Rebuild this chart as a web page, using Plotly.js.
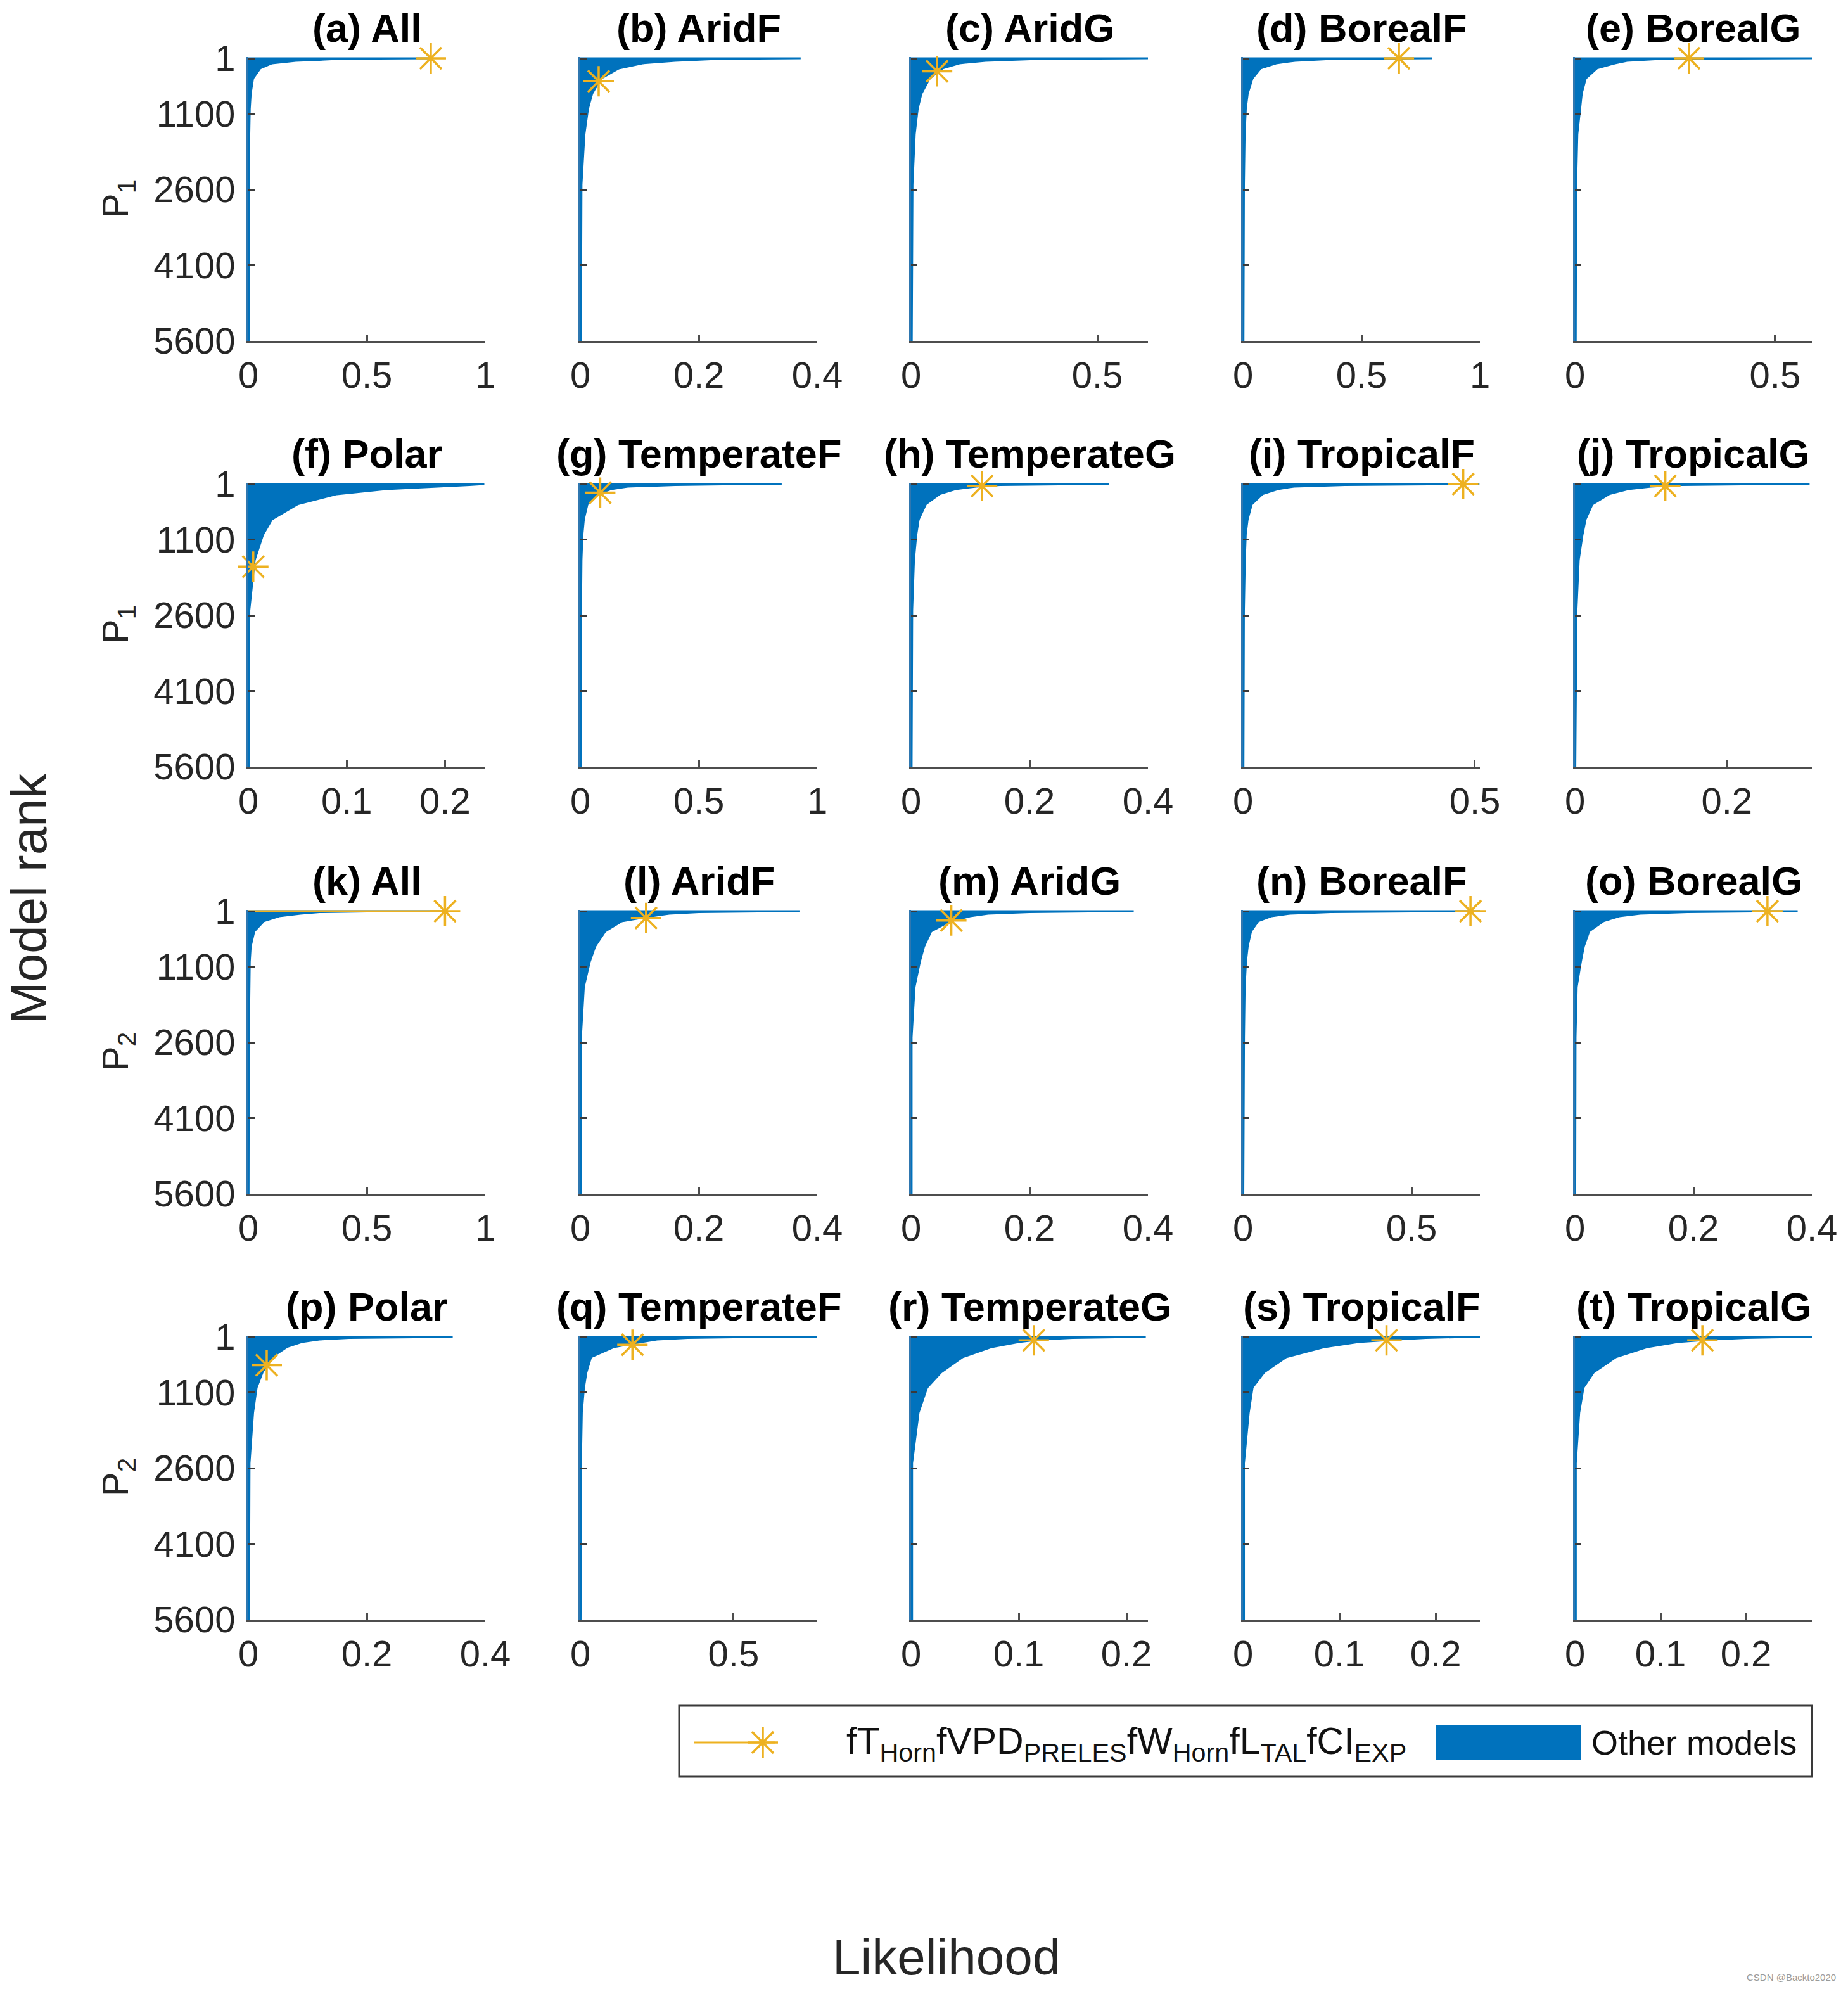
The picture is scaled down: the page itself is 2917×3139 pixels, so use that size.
<!DOCTYPE html>
<html>
<head>
<meta charset="utf-8">
<script src="https://cdn.plot.ly/plotly-3.0.1.min.js"></script>
<style>html,body{margin:0;padding:0;background:#fff;}</style>
</head>
<body>
<div id="chart" style="width:2917px;height:3139px;"></div>
<script>
// ---------------- DATA ----------------
const panelTitles = ['(a) All','(b) AridF','(c) AridG','(d) BorealF','(e) BorealG',
  '(f) Polar','(g) TemperateF','(h) TemperateG','(i) TropicalF','(j) TropicalG',
  '(k) All','(l) AridF','(m) AridG','(n) BorealF','(o) BorealG',
  '(p) Polar','(q) TemperateF','(r) TemperateG','(s) TropicalF','(t) TropicalG'];
const rowLabels = ['P<sub>1</sub>','P<sub>1</sub>','P<sub>2</sub>','P<sub>2</sub>'];
const rankTicks = [1, 1100, 2600, 4100, 5600];
const rankMax = 5600;

// model rank at which each likelihood value is read
const RANKS = [1, 5, 20, 50, 100, 200, 400, 700, 1000, 1500, 2500, 5600];
// likelihood of the model at each rank in RANKS (sorted descending)
const likeA = [0.77, 0.55, 0.35, 0.2, 0.1, 0.05, 0.02, 0.01, 0.006, 0.004, 0.003, 0.002];
const likeB = [0.372, 0.3, 0.22, 0.16, 0.105, 0.065, 0.035, 0.02, 0.013, 0.007, 0.002, 0.001];
const likeC = [0.636, 0.5, 0.32, 0.2, 0.13, 0.085, 0.05, 0.028, 0.018, 0.01, 0.004, 0.002];
const likeD = [0.797, 0.6, 0.35, 0.22, 0.14, 0.075, 0.04, 0.02, 0.012, 0.007, 0.004, 0.002];
const likeE = [0.592, 0.4, 0.2, 0.13, 0.1, 0.055, 0.027, 0.017, 0.013, 0.006, 0.003, 0.002];
const likeF = [0.24, 0.235, 0.225, 0.19, 0.14, 0.09, 0.05, 0.024, 0.015, 0.0065, 0.001, 0.0005];
const likeG = [0.85, 0.6, 0.4, 0.2, 0.13, 0.075, 0.03, 0.015, 0.009, 0.005, 0.003, 0.002];
const likeH = [0.334, 0.25, 0.15, 0.11, 0.075, 0.048, 0.025, 0.013, 0.009, 0.005, 0.002, 0.001];
const likeI = [0.51, 0.4, 0.22, 0.11, 0.075, 0.042, 0.019, 0.01, 0.006, 0.004, 0.002, 0.001];
const likeJ = [0.309, 0.22, 0.14, 0.1, 0.07, 0.045, 0.023, 0.014, 0.01, 0.005, 0.002, 0.0005];
const likeK = [0.83, 0.5, 0.3, 0.22, 0.13, 0.065, 0.025, 0.01, 0.006, 0.004, 0.002, 0.001];
const likeL = [0.37, 0.3, 0.2, 0.15, 0.12, 0.07, 0.042, 0.025, 0.016, 0.006, 0.001, 0.001];
const likeM = [0.376, 0.3, 0.2, 0.13, 0.1, 0.066, 0.034, 0.022, 0.015, 0.006, 0.001, 0.001];
const likeN = [0.703, 0.5, 0.26, 0.14, 0.085, 0.045, 0.024, 0.014, 0.009, 0.005, 0.003, 0.001];
const likeO = [0.376, 0.3, 0.19, 0.11, 0.075, 0.048, 0.024, 0.015, 0.01, 0.003, 0.001, 0.0005];
const likeP = [0.345, 0.28, 0.17, 0.12, 0.09, 0.065, 0.04, 0.024, 0.014, 0.008, 0.002, 0.001];
const likeQ = [0.773, 0.5, 0.35, 0.25, 0.2, 0.11, 0.035, 0.02, 0.012, 0.005, 0.002, 0.001];
const likeR = [0.218, 0.19, 0.15, 0.12, 0.1, 0.075, 0.048, 0.028, 0.015, 0.007, 0.001, 0.001];
const likeS = [0.246, 0.22, 0.19, 0.16, 0.12, 0.085, 0.045, 0.022, 0.01, 0.006, 0.001, 0.001];
const likeT = [0.277, 0.24, 0.2, 0.16, 0.12, 0.085, 0.048, 0.022, 0.01, 0.005, 0.001, 0.001];

// best model (fT_Horn fVPD_PRELES fW_Horn fL_TAL fCI_EXP): likelihood and rank per panel
const starLik  = [0.77, 0.031, 0.07, 0.658, 0.285, 0.005, 0.084, 0.12, 0.475, 0.119,
                  0.83, 0.111, 0.068, 0.675, 0.325, 0.031, 0.17, 0.114, 0.149, 0.149];
const starRank = [1, 456, 258, 1, 1, 1637, 171, 37, 1, 37,
                  1, 135, 185, 1, 1, 559, 154, 65, 65, 65];

// x-axis limits and ticks per panel
const xMax = [1, 0.4, 0.636, 1, 0.592, 0.241, 1, 0.4, 0.511, 0.312,
              1, 0.4, 0.4, 0.703, 0.4, 0.4, 0.773, 0.22, 0.246, 0.277];
const xTicks = [[0,0.5,1],[0,0.2,0.4],[0,0.5],[0,0.5,1],[0,0.5],
                [0,0.1,0.2],[0,0.5,1],[0,0.2,0.4],[0,0.5],[0,0.2],
                [0,0.5,1],[0,0.2,0.4],[0,0.2,0.4],[0,0.5],[0,0.2,0.4],
                [0,0.2,0.4],[0,0.5],[0,0.1,0.2],[0,0.1,0.2],[0,0.1,0.2]];

const panelValues = [likeA, likeB, likeC, likeD, likeE, likeF, likeG, likeH, likeI, likeJ,
                     likeK, likeL, likeM, likeN, likeO, likeP, likeQ, likeR, likeS, likeT];

// ---------------- LAYOUT GEOMETRY ----------------
const W = 2917, H = 3139;
const colLeft = [392, 916, 1438, 1962, 2486];
const rowTop = [90, 762, 1436, 2108];
const pw = 374, ph = 448;
const FONT = 'Liberation Sans, Arial, Helvetica, sans-serif';
const BLUE = '#0072BD', YEL = '#EDB120';
const px = v => v / W;
const py = v => 1 - v / H;

const traces = [];
const layout = {
  width: W, height: H,
  margin: {l: 0, r: 0, t: 0, b: 0},
  paper_bgcolor: '#ffffff',
  plot_bgcolor: 'rgba(0,0,0,0)',
  showlegend: false,
  font: {family: FONT, color: '#262626'},
  annotations: [],
  shapes: []
};

for (let i = 0; i < 20; i++) {
  const r = Math.floor(i / 5), c = i % 5;
  const n = i + 1;
  const xa = n === 1 ? 'x' : 'x' + n;
  const ya = n === 1 ? 'y' : 'y' + n;
  const xk = n === 1 ? 'xaxis' : 'xaxis' + n;
  const yk = n === 1 ? 'yaxis' : 'yaxis' + n;

  // other models: horizontal bars from 0 to likelihood (envelope fill)
  traces.push({
    type: 'scatter', mode: 'lines',
    x: [0].concat(panelValues[i]),
    y: [RANKS[0]].concat(RANKS),
    fill: 'tozerox', fillcolor: BLUE,
    line: {color: BLUE, width: 3},
    xaxis: xa, yaxis: ya, hoverinfo: 'skip'
  });

  if (i === 10) {
    traces.push({
      type: 'scatter', mode: 'lines',
      x: [0, starLik[i]], y: [starRank[i], starRank[i]],
      line: {color: YEL, width: 3},
      xaxis: xa, yaxis: ya, hoverinfo: 'skip'
    });
  }

  traces.push({
    type: 'scatter', mode: 'markers',
    x: [starLik[i]], y: [starRank[i]],
    marker: {symbol: 'asterisk-open', size: 40, color: YEL, line: {color: YEL, width: 3.5}},
    cliponaxis: false,
    xaxis: xa, yaxis: ya, hoverinfo: 'skip'
  });

  layout[xk] = {
    domain: [px(colLeft[c]), px(colLeft[c] + pw)],
    anchor: ya,
    range: [0, xMax[i]],
    tickmode: 'array', tickvals: xTicks[i], ticktext: xTicks[i].map(String),
    showline: true, linecolor: '#4d4d4d', linewidth: 4,
    ticks: 'inside', ticklen: 10, tickwidth: 3, tickcolor: '#4d4d4d',
    showgrid: false, zeroline: false, mirror: false,
    tickfont: {family: FONT, size: 58, color: '#262626'},
    ticklabelstandoff: 0
  };
  layout[yk] = {
    domain: [py(rowTop[r] + ph), py(rowTop[r])],
    anchor: xa,
    range: [rankMax, -25],
    tickmode: 'array', tickvals: rankTicks, ticktext: rankTicks.map(String),
    showticklabels: c === 0,
    showline: true, linecolor: '#2f77b0', linewidth: 3,
    ticks: 'inside', ticklen: 10, tickwidth: 3, tickcolor: '#3a3a3a',
    showgrid: false, zeroline: false, mirror: false,
    tickfont: {family: FONT, size: 58, color: '#262626'},
    ticklabelstandoff: 6
  };

  layout.annotations.push({
    xref: 'paper', yref: 'paper',
    x: px(colLeft[c] + pw / 2), y: py(rowTop[r] - 46),
    xanchor: 'center', yanchor: 'middle', showarrow: false,
    text: panelTitles[i],
    font: {family: FONT, size: 63, color: '#000000', weight: 'bold'}
  });
}

// row labels P1 / P2
for (let r = 0; r < 4; r++) {
  layout.annotations.push({
    xref: 'paper', yref: 'paper',
    x: px(186), y: py(rowTop[r] + ph / 2),
    xanchor: 'center', yanchor: 'middle', showarrow: false,
    textangle: -90, text: rowLabels[r],
    font: {family: FONT, size: 58, color: '#262626'}
  });
}

// common axis titles
layout.annotations.push({
  xref: 'paper', yref: 'paper', x: px(46), y: py(1418),
  xanchor: 'center', yanchor: 'middle', showarrow: false, textangle: -90,
  text: 'Model rank', font: {family: FONT, size: 80, color: '#262626'}
});
layout.annotations.push({
  xref: 'paper', yref: 'paper', x: px(1494), y: py(3088),
  xanchor: 'center', yanchor: 'middle', showarrow: false,
  text: 'Likelihood', font: {family: FONT, size: 80, color: '#262626'}
});
layout.annotations.push({
  xref: 'paper', yref: 'paper', x: px(2900), y: py(3120),
  xanchor: 'right', yanchor: 'middle', showarrow: false,
  text: 'CSDN @Backto2020', font: {family: FONT, size: 15, color: '#9a9a9a'}
});

// ---------------- LEGEND (drawn manually) ----------------
const legL = 1072, legR = 2860, legT = 2692, legB = 2804, legMid = 2750;
layout.shapes.push({type: 'rect', xref: 'paper', yref: 'paper',
  x0: px(legL), x1: px(legR), y0: py(legB), y1: py(legT),
  line: {color: '#3a3a3a', width: 3}, fillcolor: 'rgba(255,255,255,0)'});
layout.shapes.push({type: 'line', xref: 'paper', yref: 'paper',
  x0: px(1096), x1: px(1224), y0: py(legMid), y1: py(legMid),
  line: {color: YEL, width: 3}});
layout.shapes.push({type: 'rect', xref: 'paper', yref: 'paper',
  x0: px(2266), x1: px(2496), y0: py(2777), y1: py(2723),
  line: {width: 0}, fillcolor: BLUE});
layout.annotations.push({
  xref: 'paper', yref: 'paper', x: px(1334), y: py(legMid + 2),
  xanchor: 'left', yanchor: 'middle', showarrow: false,
  text: 'fT<sub>Horn</sub>fVPD<sub>PRELES</sub>fW<sub>Horn</sub>fL<sub>TAL</sub>fCI<sub>EXP</sub>',
  font: {family: FONT, size: 59, color: '#111111'}
});
layout.annotations.push({
  xref: 'paper', yref: 'paper', x: px(2510), y: py(legMid),
  xanchor: 'left', yanchor: 'middle', showarrow: false,
  text: 'Other models', font: {family: FONT, size: 54, color: '#111111'}
});
// legend star on its own hidden axis covering the legend box
layout.xaxis21 = {domain: [px(legL), px(legR)], range: [legL, legR], visible: false, anchor: 'y21'};
layout.yaxis21 = {domain: [py(legB), py(legT)], range: [legB, legT], visible: false, anchor: 'x21'};
traces.push({
  type: 'scatter', mode: 'markers', x: [1204], y: [legMid],
  marker: {symbol: 'asterisk-open', size: 40, color: YEL, line: {color: YEL, width: 3.5}},
  xaxis: 'x21', yaxis: 'y21', hoverinfo: 'skip', cliponaxis: false
});

Plotly.newPlot('chart', traces, layout, {staticPlot: true, displayModeBar: false});
</script>
</body>
</html>
